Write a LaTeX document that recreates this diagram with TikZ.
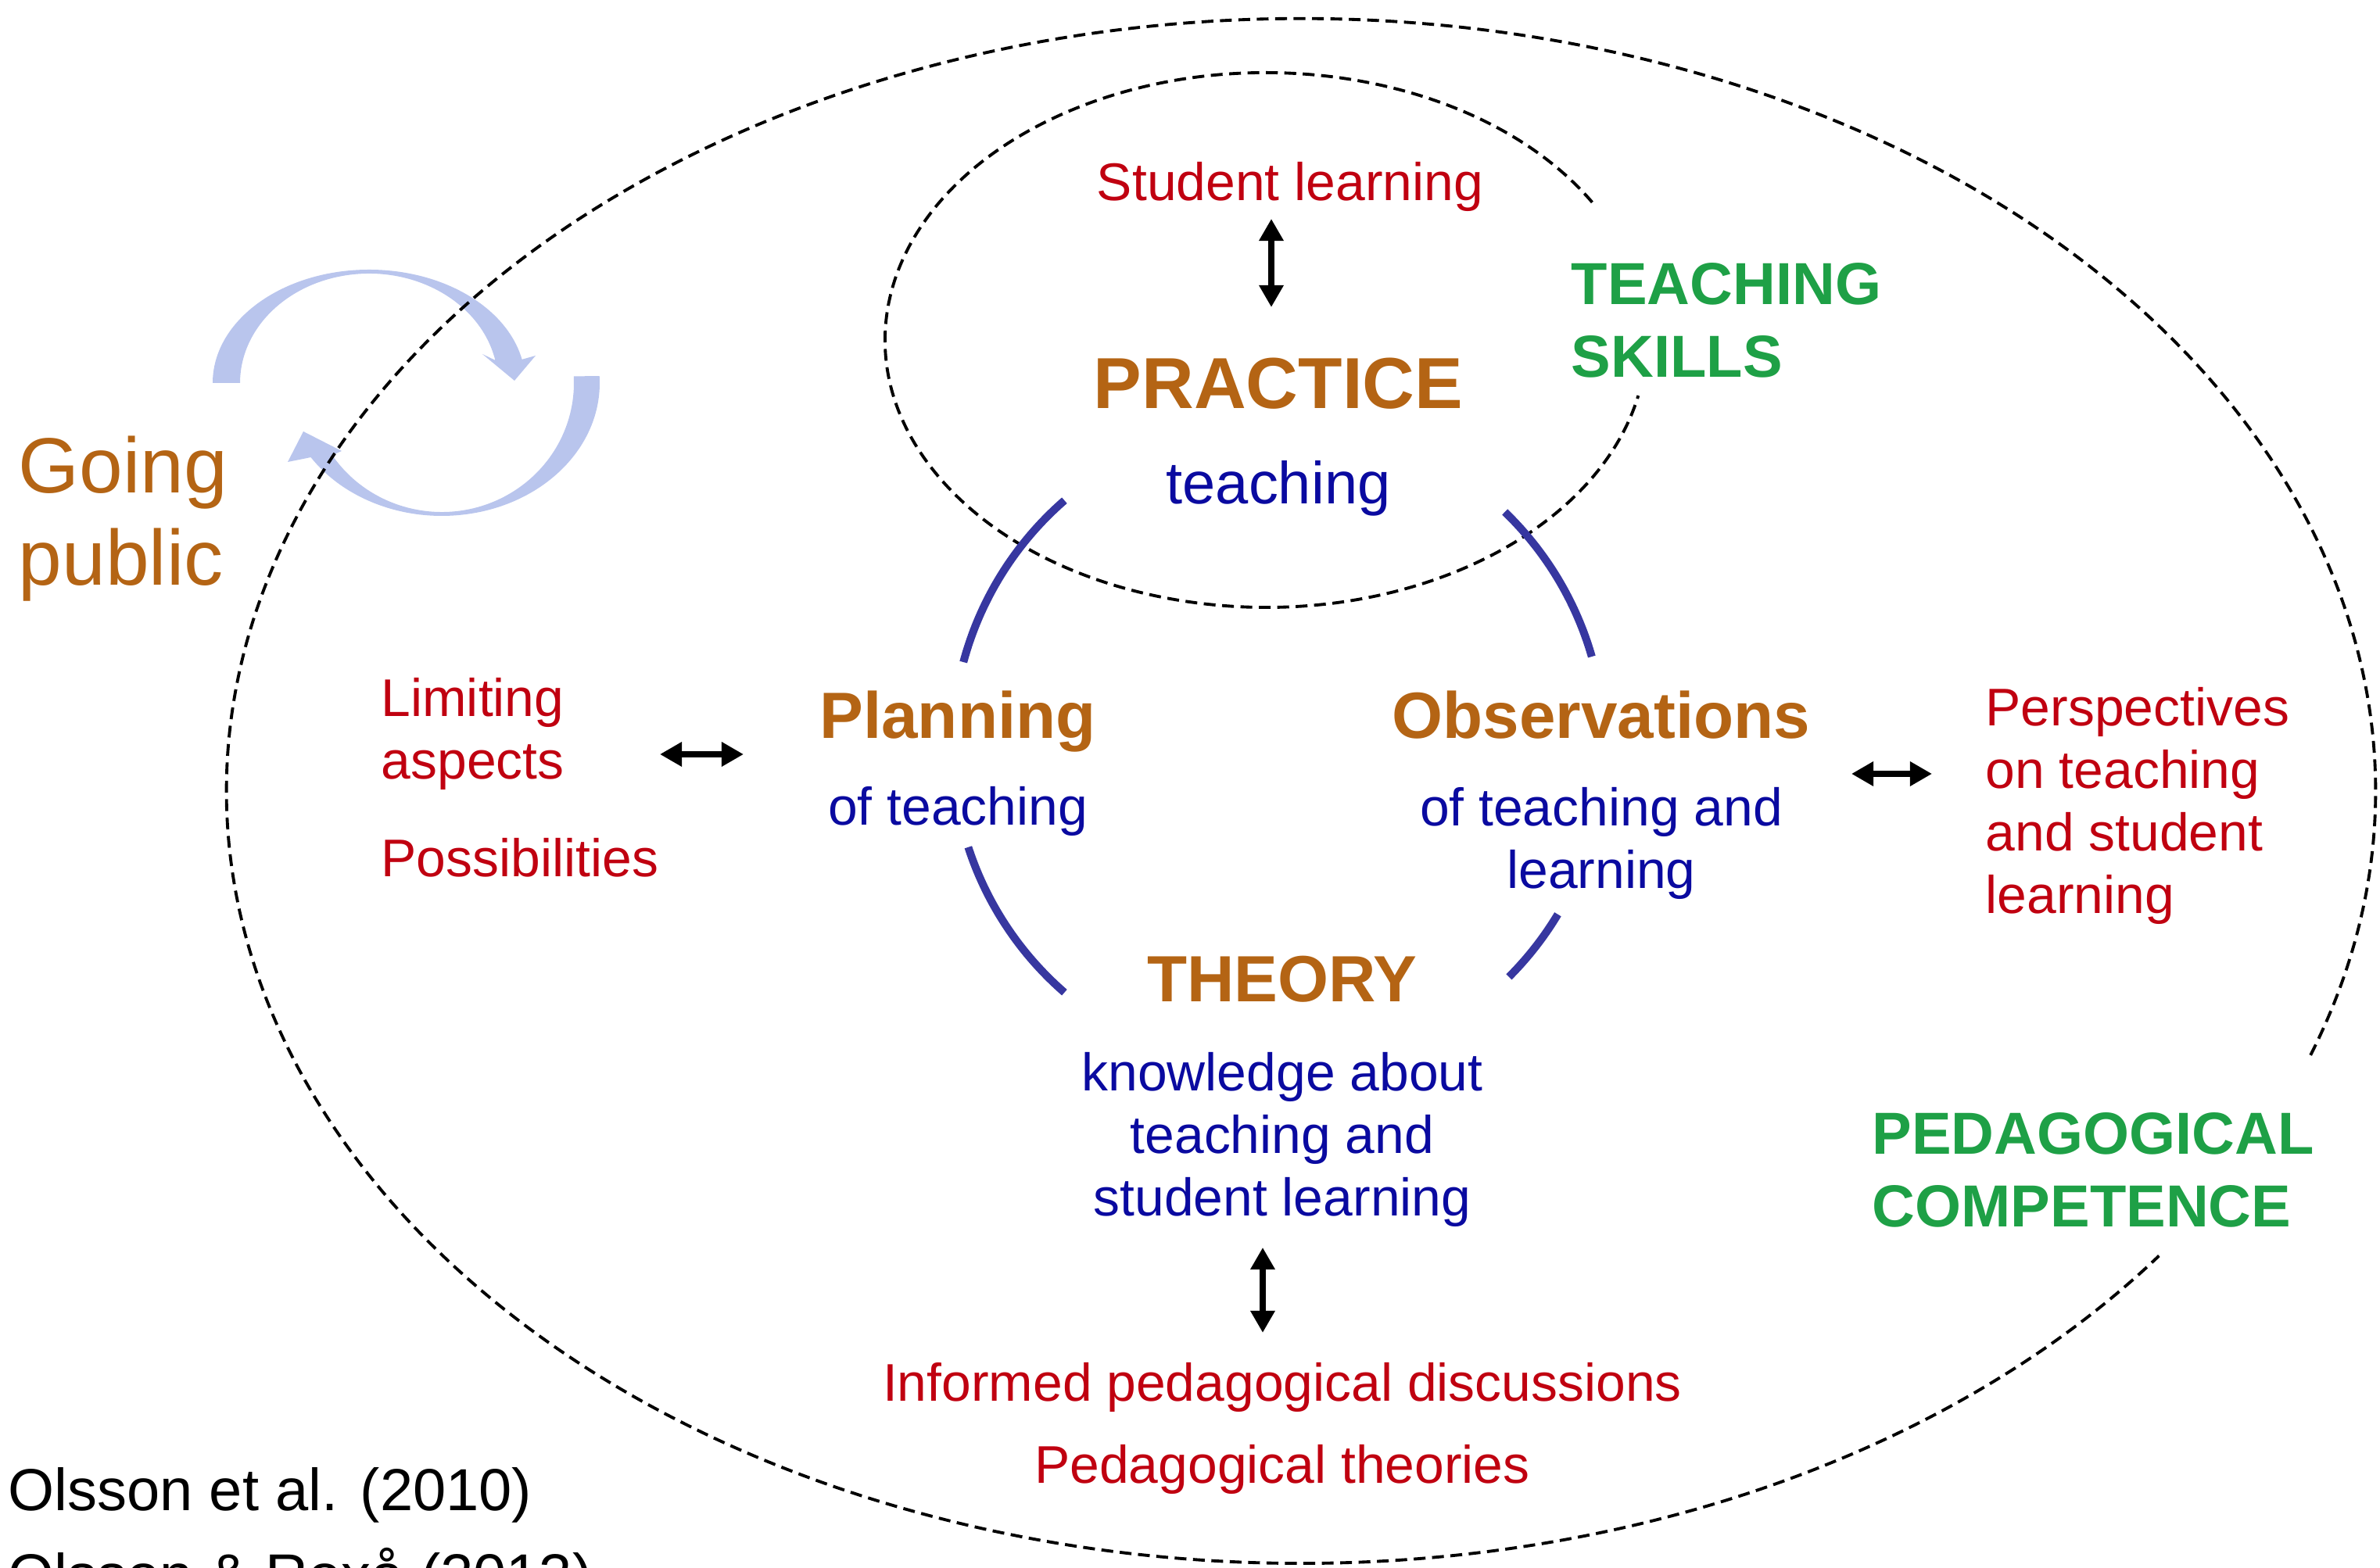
\documentclass[tikz,border=0pt]{standalone}
\usepackage{fontspec}
\setmainfont{Liberation Sans}
\usepackage{tikz}
\usepackage{xcolor}
\usetikzlibrary{arrows.meta}
\definecolor{darkred}{RGB}{192,0,16}
\definecolor{ochre}{RGB}{180,100,20}
\definecolor{navy}{RGB}{10,10,160}
\definecolor{leaf}{RGB}{30,160,70}
\definecolor{ringblue}{RGB}{55,55,160}
\definecolor{paleblue}{RGB}{185,197,237}
\tikzstyle{note} = [inner sep=0pt, text=darkred, font=\fontsize{19.3}{22.7}\selectfont, align=left]
\tikzstyle{explain} = [inner sep=0pt, text=navy, font=\fontsize{19.3}{22.7}\selectfont, align=center]
\tikzstyle{stage} = [inner sep=0pt, text=ochre, font=\bfseries\fontsize{23.8}{28}\selectfont]
\tikzstyle{comp} = [inner sep=0pt, text=leaf, font=\bfseries\fontsize{21.6}{26.5}\selectfont, align=left]
\tikzstyle{boundary} = [dash pattern=on 4.3pt off 2.4pt, line width=1.1pt]
\tikzstyle{ring} = [draw=ringblue, line width=2.85pt]
\tikzstyle{swirl} = [fill=paleblue]
\tikzstyle{link} = [<->, line width=2.3pt]

\begin{document}
\begin{tikzpicture}[>={Triangle[length=8pt,width=8.5pt]},node distance=1.5cm]
  \useasboundingbox (0,0) rectangle (30.44,20.06);
  \clip (0,0) rectangle (30.44,20.06);

  % going public arrows
  \fill[swirl] (2.72,15.16) arc[start angle=180,end angle=12,x radius=2.0,y radius=1.45]
    -- (6.85,15.51) -- (6.58,15.19) -- (6.17,15.53) -- (6.334,15.451)
    arc[start angle=12,end angle=180,x radius=1.65,y radius=1.40] -- cycle;
  \fill[swirl] (7.667,15.249) arc[start angle=3,end angle=-146,x radius=2.02,y radius=1.70]
    -- (3.68,14.15) -- (3.88,14.54) -- (4.37,14.29) -- (4.249,14.237)
    arc[start angle=-146,end angle=3,x radius=1.69,y radius=1.65] -- cycle;

  % competence and skills
  \draw[boundary] (16.64,9.94) ++(-20:13.74 and 9.88) arc[start angle=-20,end angle=323,x radius=13.74,y radius=9.88];
  \draw[boundary] (16.19,15.71) ++(31:4.87 and 3.42) arc[start angle=31,end angle=348,x radius=4.87,y radius=3.42];

  % cycle
  \foreach \a/\b in {131/165,16/46,198/229,-45/-31}
    \draw[ring] (16.35,10.51) ++(\a:4.17) arc[start angle=\a,end angle=\b,radius=4.17];

  \node[stage,font=\bfseries\fontsize{26.3}{30}\selectfont] (practice) at (16.35,15.15) {PRACTICE};
  \node[explain,font=\fontsize{21.6}{25}\selectfont,node distance=1.34cm] (teachP) [below of=practice] {teaching};
  \node[note,node distance=2.52cm,xshift=1.5mm] (studlearn) [above of=practice] {Student learning};
  \node[comp,anchor=west] (skills) at (20.09,15.96) {TEACHING\\SKILLS};
  \node[stage,font=\fontsize{28.5}{33.6}\selectfont,align=left,anchor=west] (going) at (0.23,13.42) {Going\\public};

  \node[note,anchor=west] (limit) at (4.87,10.67) {Limiting\\aspects};
  \node[note,anchor=west] (poss) at (4.87,9.09) {Possibilities};
  \node[stage] (plan) at (12.25,10.83) {Planning};
  \node[explain,node distance=1.15cm] (planof) [below of=plan] {of teaching};
  \node[stage] (obs) at (20.48,10.91) {Observations};
  \node[explain,node distance=1.64cm] (obsof) [below of=obs] {of teaching and\\learning};
  \node[note,anchor=west] (persp) at (25.39,9.75) {Perspectives\\on teaching\\and student\\learning};

  \node[stage] (theory) at (16.40,7.53) {THEORY};
  \node[explain,node distance=2.05cm] (know) [below of=theory] {knowledge about\\teaching and\\student learning};
  \node[note] (informed) at (16.40,2.31) {Informed pedagogical discussions};
  \node[note,node distance=1.05cm] (pedtheo) [below of=informed] {Pedagogical theories};
  \node[comp,anchor=west] (pedcomp) at (23.94,5.09) {PEDAGOGICAL\\COMPETENCE};

  \node[anchor=north west,inner sep=0pt,align=left,font=\fontsize{21.6}{31}\selectfont] (olsson) at (0.10,1.29) {Olsson et al. (2010)\\Olsson \& Roxå (2013)};

  % arrow ends
  \coordinate (sl-a) at (16.26,17.26);
  \coordinate (sl-b) at (16.26,16.13);
  \coordinate (la-a) at (8.44,10.41);
  \coordinate (la-b) at (9.51,10.41);
  \coordinate (pe-a) at (23.68,10.16);
  \coordinate (pe-b) at (24.71,10.16);
  \coordinate (kn-a) at (16.15,4.10);
  \coordinate (kn-b) at (16.15,3.01);

  \draw[link] (sl-a) -- (sl-b);
  \draw[link] (la-a) -- (la-b);
  \draw[link] (pe-a) -- (pe-b);
  \draw[link] (kn-a) -- (kn-b);
\end{tikzpicture}
\end{document}
